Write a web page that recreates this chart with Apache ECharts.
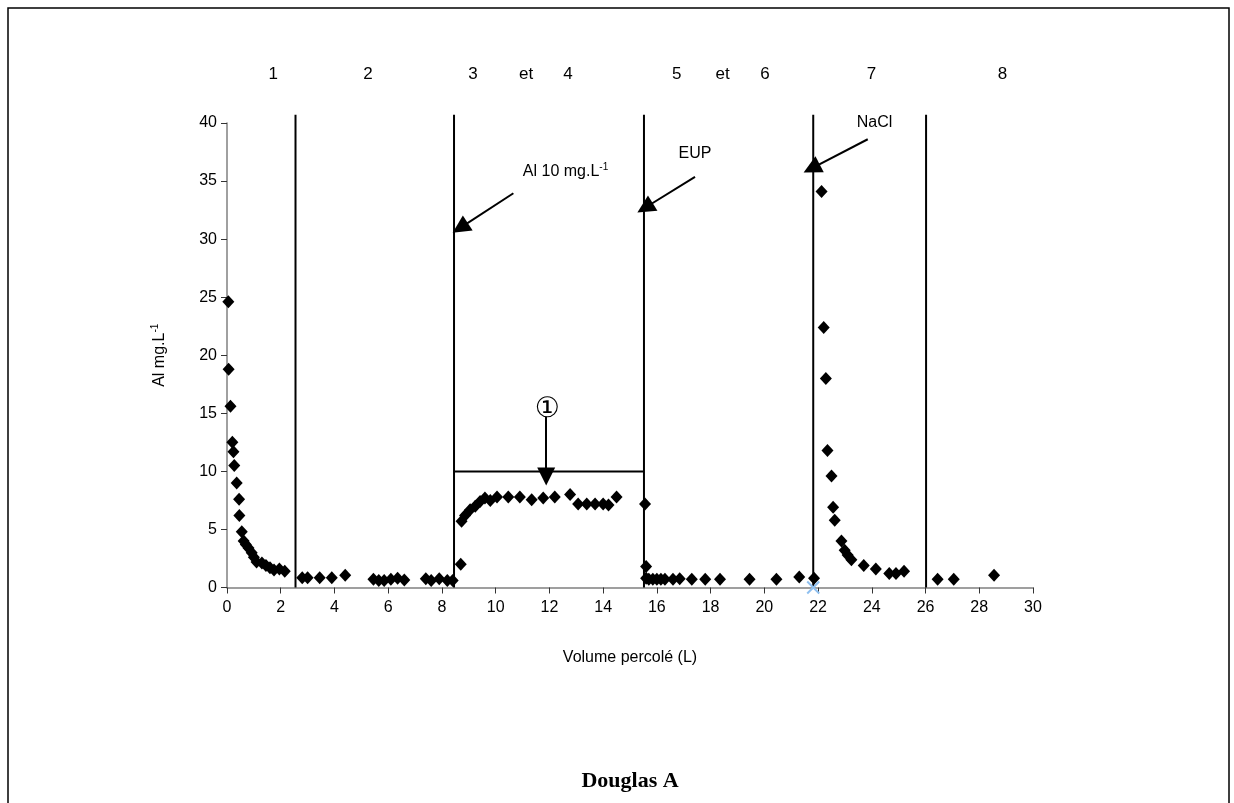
<!DOCTYPE html>
<html>
<head>
<meta charset="utf-8">
<script src="https://cdn.jsdelivr.net/npm/echarts@6/dist/echarts.min.js"></script>
<style>
  html, body { margin: 0; padding: 0; background: #ffffff; }
  #chart { width: 1234px; height: 803px; }
</style>
</head>
<body>
<div id="chart"></div>
<script>
// Al concentration (mg.L-1) against percolated volume (L), one array per phase
const phase1 = [
  [0.05, 24.6], [0.06, 18.8], [0.13, 15.6], [0.2, 12.5], [0.24, 11.7], [0.27, 10.5],
  [0.36, 9.0], [0.45, 7.6], [0.46, 6.2], [0.55, 4.8], [0.62, 4.0], [0.7, 3.7],
  [0.8, 3.4], [0.92, 3.0], [1.0, 2.6], [1.1, 2.2], [1.3, 2.1], [1.45, 1.9],
  [1.6, 1.7], [1.75, 1.5], [1.95, 1.6], [2.15, 1.4]
];
const phase2 = [
  [2.8, 0.85], [3.0, 0.85], [3.45, 0.85], [3.9, 0.85], [4.4, 1.05],
  [5.45, 0.7], [5.65, 0.6], [5.85, 0.6], [6.1, 0.7], [6.35, 0.8], [6.6, 0.65],
  [7.4, 0.75], [7.6, 0.6], [7.9, 0.75], [8.2, 0.6], [8.4, 0.6]
];
const phase34 = [
  [8.7, 2.0], [8.73, 5.7], [8.86, 6.2], [9.05, 6.7], [9.24, 7.0], [9.42, 7.4],
  [9.6, 7.7], [9.8, 7.5], [10.05, 7.8], [10.47, 7.8], [10.9, 7.8], [11.34, 7.55],
  [11.77, 7.7], [12.2, 7.8], [12.77, 8.0], [13.07, 7.2], [13.39, 7.2], [13.7, 7.2],
  [14.0, 7.2], [14.2, 7.1], [14.5, 7.8]
];
const phase56 = [
  [15.56, 7.2], [15.6, 1.8], [15.6, 0.8], [15.7, 0.7], [15.85, 0.7], [16.0, 0.7],
  [16.15, 0.7], [16.3, 0.7], [16.6, 0.7], [16.85, 0.75], [17.3, 0.7], [17.8, 0.7],
  [18.35, 0.7], [19.45, 0.7], [20.45, 0.7], [21.3, 0.9], [21.85, 0.8]
];
const phase7 = [
  [22.13, 34.1], [22.21, 22.4], [22.29, 18.0], [22.35, 11.8], [22.5, 9.6],
  [22.56, 6.9], [22.62, 5.8], [22.87, 4.0], [22.99, 3.2], [23.1, 2.8], [23.24, 2.4],
  [23.7, 1.9], [24.15, 1.6], [24.65, 1.2], [24.9, 1.2], [25.2, 1.4]
];
const phase8 = [
  [26.45, 0.7], [27.05, 0.7], [28.55, 1.05]
];
const crossPoint = [[21.82, 0]];

// Phase boundaries (L) and the 10 mg.L-1 inflow level during phases 3-4
const boundaries = [2.55, 8.45, 15.52, 21.82, 26.02];
const boundaryTop = 40.7;
const plateauSpan = [8.45, 15.52];
const plateauLevel = 10;

// Phase labels along the top
const phaseLabels = ['1', '2', '3', 'et', '4', '5', 'et', '6', '7', '8'];
const phaseLabelX = [1.72, 5.25, 9.16, 11.13, 12.69, 16.74, 18.45, 20.02, 23.99, 28.86];

// Axis ticks
const xTicks = { min: 0, max: 30, step: 2 };
const yTicks = { min: 0, max: 40, step: 5 };

// Annotated arrows: [start, tip] in data units
const arrowLines = [
  [[10.66, 33.95], [8.68, 30.97]],
  [[17.42, 35.36], [15.56, 32.7]],
  [[23.85, 38.6], [21.76, 36.1]],
  [[11.88, 14.7], [11.88, 9.55]]
];
// Annotation texts anchored in data units
const notes = [
  { text: '{n|Al 10 mg.L}{s|-1}', at: [12.6, 35.8] },
  { text: '{n|EUP}', at: [17.42, 37.4] },
  { text: '{n|NaCl}', at: [24.1, 40.0] }
];
const circledNote = { text: '\u2460', at: [11.92, 15.35] };

const FONT = 'Liberation Sans, Arial, sans-serif';
const chart = echarts.init(document.getElementById('chart'), null, { renderer: 'canvas' });

const allPoints = [].concat(phase1, phase2, phase34, phase56, phase7, phase8);

// Phase separators drawn as unclipped two-point line series
const ruleStyle = { color: '#000', width: 2, type: 'solid', opacity: 1 };
const separatorSeries = boundaries.map((x, i) => ({
  name: 'sep' + i, type: 'line', data: [[x, yTicks.min], [x, boundaryTop]],
  symbol: 'none', clip: false, silent: true, z: 3,
  lineStyle: ruleStyle, emphasis: { disabled: true }
}));
separatorSeries.push({
  name: 'plateau', type: 'line',
  data: [[plateauSpan[0], plateauLevel], [plateauSpan[1], plateauLevel]],
  symbol: 'none', clip: false, silent: true, z: 3,
  lineStyle: ruleStyle, emphasis: { disabled: true }
});

const option = {
  animation: false,
  backgroundColor: '#ffffff',
  grid: { left: 227, right: 201, top: 123, bottom: 215.5, containLabel: false },
  xAxis: {
    type: 'value', min: xTicks.min, max: xTicks.max, interval: xTicks.step,
    name: 'Volume percolé (L)', nameLocation: 'middle', nameGap: 62,
    nameTextStyle: { fontFamily: FONT, fontSize: 16, color: '#000' },
    axisLine: { lineStyle: { color: '#808080', width: 1.5 } },
    axisTick: { show: true, inside: false, length: 6, lineStyle: { color: '#333', width: 1 } },
    axisLabel: { fontFamily: FONT, fontSize: 16, color: '#000', margin: 12 },
    splitLine: { show: false }
  },
  yAxis: {
    type: 'value', min: yTicks.min, max: yTicks.max, interval: yTicks.step,
    name: '{n|Al mg.L}{s|-1}', nameLocation: 'middle', nameGap: 57, nameRotate: 90,
    nameTextStyle: {
      fontFamily: FONT, fontSize: 16, color: '#000',
      rich: {
        n: { fontFamily: FONT, fontSize: 16, color: '#000', lineHeight: 20 },
        s: { fontFamily: FONT, fontSize: 10, color: '#000', verticalAlign: 'top', lineHeight: 20 }
      }
    },
    axisLine: { show: true, lineStyle: { color: '#808080', width: 1.5 } },
    axisTick: { show: true, inside: false, length: 6, lineStyle: { color: '#333', width: 1 } },
    axisLabel: { fontFamily: FONT, fontSize: 16, color: '#000', margin: 10 },
    splitLine: { show: false }
  },
  series: separatorSeries.concat([
    {
      name: 'Al', type: 'scatter', data: allPoints,
      symbol: 'diamond', symbolSize: [12, 13],
      itemStyle: { color: '#000', opacity: 1 }, z: 5
    },
    {
      name: 'x', type: 'scatter', data: crossPoint, clip: false,
      symbol: 'path://M0,0 L10,10 M10,0 L0,10', symbolSize: 12,
      itemStyle: { color: 'rgba(0,0,0,0)', borderColor: '#8fc0f0', borderWidth: 2, opacity: 1 }, z: 8,
      markLine: {
        silent: true, symbol: ['none', 'triangle'], symbolSize: 18, animation: false,
        label: { show: false },
        lineStyle: { color: '#000', width: 2, type: 'solid', opacity: 1 },
        itemStyle: { color: '#000' },
        emphasis: { disabled: true },
        data: arrowLines.map(a => [{ coord: a[0] }, { coord: a[1] }])
      }
    }
  ])
};
chart.setOption(option);

// Text placed from data coordinates
const px = p => chart.convertToPixel({ gridIndex: 0 }, p);
const richStyle = {
  n: { fontFamily: FONT, fontSize: 16, fill: '#000', lineHeight: 20 },
  s: { fontFamily: FONT, fontSize: 10, fill: '#000', verticalAlign: 'top', lineHeight: 20 }
};
const graphics = [];
phaseLabels.forEach((t, i) => {
  const p = px([phaseLabelX[i], 0]);
  graphics.push({
    type: 'text', x: p[0], y: 74,
    style: { text: t, font: '17px ' + FONT, fill: '#000', align: 'center', verticalAlign: 'middle' }
  });
});
notes.forEach(nt => {
  const p = px(nt.at);
  graphics.push({
    type: 'text', x: p[0], y: p[1],
    style: { text: nt.text, rich: richStyle, align: 'center', verticalAlign: 'middle' }
  });
});
{
  const p = px(circledNote.at);
  graphics.push({
    type: 'text', x: p[0], y: p[1],
    style: { text: circledNote.text, font: '28px DejaVu Sans, Noto Sans CJK JP, sans-serif', fill: '#000', align: 'center', verticalAlign: 'middle' }
  });
}
graphics.push({
  type: 'text', x: 630, y: 781,
  style: { text: 'Douglas A', font: 'bold 22px Liberation Serif, Times New Roman, serif', fill: '#000', align: 'center', verticalAlign: 'middle' }
});
graphics.push({
  type: 'rect', shape: { x: 8, y: 8, width: 1221, height: 810 },
  style: { fill: 'none', stroke: '#000', lineWidth: 1.5 }, silent: true
});
chart.setOption({ graphic: graphics });
</script>
</body>
</html>
